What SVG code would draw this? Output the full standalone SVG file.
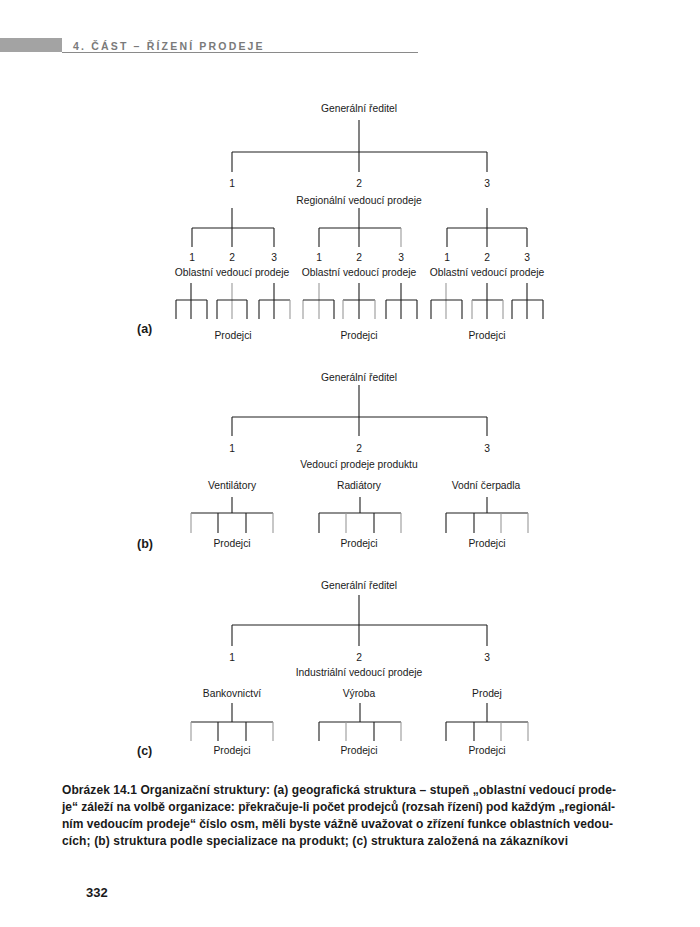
<svg xmlns="http://www.w3.org/2000/svg" width="700" height="927" viewBox="0 0 700 927">
<style>
.t{font-family:"Liberation Sans",Arial,sans-serif;font-size:10.3px;fill:#1a1a1a;text-anchor:middle}
.lbl{font-family:"Liberation Sans",Arial,sans-serif;font-size:12.5px;font-weight:bold;fill:#1a1a1a}
.cap{font-family:"Liberation Sans",Arial,sans-serif;font-size:12px;font-weight:bold;fill:#1a1a1a}
.hd{font-family:"Liberation Sans",Arial,sans-serif;font-size:10.5px;font-weight:bold;fill:#7a7a7a;letter-spacing:1.4px}
.ln{fill:none;stroke:#1e1e1e;stroke-width:1.1}
.gr{fill:none;stroke:#9a9a9a;stroke-width:1.1}
</style>
<rect width="700" height="927" fill="#ffffff"/>

<g id="header">
<rect x="0" y="38" width="62" height="14" fill="#a3a3a3"/>
<line x1="62" y1="52.5" x2="418" y2="52.5" stroke="#8a8a8a" stroke-width="1"/>
<text class="hd" x="73" y="50" textLength="191">4. ČÁST – ŘÍZENÍ PRODEJE</text>
</g>

<g id="connectors">
<!-- (a) -->
<path class="ln" d="M359 120V152M232 152H487M232 152V172M359 152V172M487 152V172"/>
<path class="ln" d="M232 208V228M192 228H274M192 228V247M232 228V247M274 228V247"/>
<path class="ln" d="M359 208V228M319 228H401M319 228V247M359 228V247"/>
<path class="gr" d="M401 228V247"/>
<path class="ln" d="M487 208V228M447 228H527M447 228V247M487 228V247M527 228V247"/>
<path class="ln" d="M191 283V300M176 300H207M176 300V319M191 300V319M207 300V319"/>
<path class="gr" d="M232 283V319"/>
<path class="ln" d="M217 300H247M217 300V319M247 300V319"/>
<path class="ln" d="M274 283V300M259 300H290M259 300V319M274 300V319"/>
<path class="gr" d="M290 300V319"/>
<path class="gr" d="M319 283V319M303 300V319"/>
<path class="ln" d="M303 300H334M334 300V319"/>
<path class="ln" d="M359 283V300M343 300H375M359 300V319"/>
<path class="gr" d="M343 300V319M375 300V319"/>
<path class="ln" d="M401 283V300M386 300H417M386 300V319M401 300V319M417 300V319"/>
<path class="gr" d="M446 283V319"/>
<path class="ln" d="M431 300H462M431 300V319M462 300V319"/>
<path class="ln" d="M487 283V300M472 300H503M487 300V319"/>
<path class="gr" d="M472 300V319M503 300V319"/>
<path class="ln" d="M527 283V300M512 300H543M512 300V319M527 300V319M543 300V319"/>
<!-- (b) -->
<path class="ln" d="M359 385V417M232 417H487M232 417V436M359 417V436M487 417V436"/>
<path class="ln" d="M232 497V513M191 513H273M218 513V533M246 513V533"/>
<path class="gr" d="M191 513V533M273 513V533"/>
<path class="ln" d="M360 497V513M319 513H401M319 513V533M374 513V533"/>
<path class="gr" d="M346 513V533M401 513V533"/>
<path class="ln" d="M487 497V513M446 513H528M446 513V533M474 513V533"/>
<path class="gr" d="M501 513V533M528 513V533"/>
<!-- (c) -->
<path class="ln" d="M359 595V625M232 625H487M232 625V646M359 625V646M487 625V646"/>
<path class="ln" d="M232 703V722M191 722H273M218 722V741M246 722V741"/>
<path class="gr" d="M191 722V741M273 722V741"/>
<path class="ln" d="M360 703V722M319 722H401M319 722V741M374 722V741"/>
<path class="gr" d="M346 722V741M401 722V741"/>
<path class="ln" d="M487 703V722M446 722H528M446 722V741M474 722V741"/>
<path class="gr" d="M501 722V741M528 722V741"/>
</g>

<g id="a-gr"><text class="t" x="359" y="112">Generální ředitel</text></g>
<g id="a-n1"><text class="t" x="232" y="187">1</text></g>
<g id="a-n2"><text class="t" x="359" y="187">2</text></g>
<g id="a-n3"><text class="t" x="487" y="187">3</text></g>
<g id="a-reg"><text class="t" x="359" y="204">Regionální vedoucí prodeje</text></g>
<g id="a-n11"><text class="t" x="192" y="261">1</text></g>
<g id="a-n12"><text class="t" x="232" y="261">2</text></g>
<g id="a-n13"><text class="t" x="274" y="261">3</text></g>
<g id="a-n21"><text class="t" x="319" y="261">1</text></g>
<g id="a-n22"><text class="t" x="359" y="261">2</text></g>
<g id="a-n23"><text class="t" x="401" y="261">3</text></g>
<g id="a-n31"><text class="t" x="447" y="261">1</text></g>
<g id="a-n32"><text class="t" x="487" y="261">2</text></g>
<g id="a-n33"><text class="t" x="527" y="261">3</text></g>
<g id="a-obl1"><text class="t" x="232" y="276">Oblastní vedoucí prodeje</text></g>
<g id="a-obl2"><text class="t" x="359" y="276">Oblastní vedoucí prodeje</text></g>
<g id="a-obl3"><text class="t" x="487" y="276">Oblastní vedoucí prodeje</text></g>
<g id="a-p1"><text class="t" x="233" y="339">Prodejci</text></g>
<g id="a-p2"><text class="t" x="359" y="339">Prodejci</text></g>
<g id="a-p3"><text class="t" x="487" y="339">Prodejci</text></g>
<g id="a-label"><text class="lbl" x="137" y="333">(a)</text></g>

<g id="b-gr"><text class="t" x="359" y="381">Generální ředitel</text></g>
<g id="b-n1"><text class="t" x="232" y="452">1</text></g>
<g id="b-n2"><text class="t" x="359" y="452">2</text></g>
<g id="b-n3"><text class="t" x="487" y="452">3</text></g>
<g id="b-ved"><text class="t" x="359" y="468">Vedoucí prodeje produktu</text></g>
<g id="b-ven"><text class="t" x="232" y="489">Ventilátory</text></g>
<g id="b-rad"><text class="t" x="359" y="489">Radiátory</text></g>
<g id="b-cer"><text class="t" x="486" y="489">Vodní čerpadla</text></g>
<g id="b-p1"><text class="t" x="232" y="547">Prodejci</text></g>
<g id="b-p2"><text class="t" x="359" y="547">Prodejci</text></g>
<g id="b-p3"><text class="t" x="487" y="547">Prodejci</text></g>
<g id="b-label"><text class="lbl" x="137" y="548">(b)</text></g>

<g id="c-gr"><text class="t" x="359" y="589">Generální ředitel</text></g>
<g id="c-n1"><text class="t" x="232" y="661">1</text></g>
<g id="c-n2"><text class="t" x="359" y="661">2</text></g>
<g id="c-n3"><text class="t" x="487" y="661">3</text></g>
<g id="c-ind"><text class="t" x="359" y="676">Industriální vedoucí prodeje</text></g>
<g id="c-ban"><text class="t" x="232" y="697">Bankovnictví</text></g>
<g id="c-vyr"><text class="t" x="359" y="697">Výroba</text></g>
<g id="c-pro"><text class="t" x="487" y="697">Prodej</text></g>
<g id="c-p1"><text class="t" x="232" y="754">Prodejci</text></g>
<g id="c-p2"><text class="t" x="359" y="754">Prodejci</text></g>
<g id="c-p3"><text class="t" x="487" y="754">Prodejci</text></g>
<g id="c-label"><text class="lbl" x="137" y="755">(c)</text></g>

<g id="caption">
<text class="cap" x="62" y="794" textLength="554" lengthAdjust="spacing">Obrázek 14.1 Organizační struktury: (a) geografická struktura – stupeň „oblastní vedoucí prode-</text>
<text class="cap" x="62" y="811" textLength="553" lengthAdjust="spacing">je“ záleží na volbě organizace: překračuje-li počet prodejců (rozsah řízení) pod každým „regionál-</text>
<text class="cap" x="62" y="828" textLength="551" lengthAdjust="spacing">ním vedoucím prodeje“ číslo osm, měli byste vážně uvažovat o zřízení funkce oblastních vedou-</text>
<text class="cap" x="62" y="845" textLength="506" lengthAdjust="spacing">cích; (b) struktura podle specializace na produkt; (c) struktura založená na zákazníkovi</text>
</g>

<g id="page-number"><text class="lbl" x="86" y="897" style="font-size:13px">332</text></g>
</svg>
